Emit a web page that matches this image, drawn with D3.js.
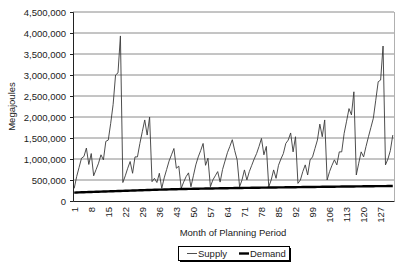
<!DOCTYPE html>
<html>
<head>
<meta charset="utf-8">
<script src="https://cdn.jsdelivr.net/npm/d3@7"></script>
<style>
  html, body { margin: 0; padding: 0; background: #fff; }
  svg { display: block; font-family: "Liberation Sans", Arial, sans-serif; }
</style>
</head>
<body>
<svg id="chart" width="398" height="275"></svg>
<script>
// ---- data ----
const months = d3.range(1, 133);
const supply = [
  300000, 580000, 800000, 1020000, 1060000, 1260000, 870000, 1130000, 600000, 750000, 900000, 1100000,
  980000, 1420000, 1450000, 1850000, 2300000, 3000000, 3050000, 3930000, 440000, 600000, 780000, 940000,
  660000, 1050000, 1050000, 1370000, 1650000, 1930000, 1570000, 2000000, 460000, 540000, 440000, 660000,
  300000, 550000, 750000, 950000, 1100000, 1250000, 780000, 830000, 300000, 450000, 580000, 670000,
  340000, 600000, 860000, 1050000, 1200000, 1370000, 850000, 1020000, 340000, 500000, 600000, 700000,
  450000, 750000, 950000, 1150000, 1300000, 1460000, 1200000, 980000, 340000, 500000, 740000, 500000,
  700000, 850000, 1000000, 1130000, 1300000, 1490000, 1100000, 1300000, 340000, 500000, 740000, 540000,
  850000, 1000000, 1130000, 1370000, 1450000, 1620000, 1170000, 1530000, 420000, 500000, 700000, 860000,
  620000, 980000, 1050000, 1250000, 1450000, 1830000, 1530000, 1930000, 500000, 700000, 850000, 980000,
  860000, 1170000, 1170000, 1610000, 1900000, 2200000, 2050000, 2600000, 620000, 900000, 1170000, 1050000,
  1300000, 1530000, 1750000, 1970000, 2400000, 2840000, 2880000, 3690000, 860000, 1000000, 1200000, 1570000
];
const demand = [
  200000, 202000, 205000, 207000, 209000, 211000, 213000, 215000, 217000, 219000, 221000, 223000,
  225000, 227000, 229000, 231000, 233000, 235000, 237000, 239000, 241000, 243000, 245000, 247000,
  249000, 251000, 253000, 255000, 257000, 259000, 261000, 263000, 265000, 267000, 269000, 271000,
  272000, 274000, 275000, 277000, 278000, 280000, 281000, 283000, 284000, 285000, 287000, 288000,
  289000, 290000, 292000, 293000, 294000, 295000, 296000, 297000, 298000, 299000, 300000, 301000,
  302000, 303000, 304000, 305000, 306000, 307000, 308000, 309000, 310000, 311000, 312000, 313000,
  313000, 314000, 315000, 316000, 317000, 318000, 319000, 319000, 320000, 321000, 322000, 323000,
  324000, 324000, 325000, 326000, 327000, 328000, 328000, 329000, 330000, 331000, 332000, 332000,
  333000, 334000, 335000, 335000, 336000, 337000, 338000, 338000, 339000, 340000, 341000, 341000,
  342000, 343000, 344000, 344000, 345000, 346000, 346000, 347000, 348000, 348000, 349000, 350000,
  350000, 351000, 352000, 352000, 353000, 354000, 354000, 355000, 355000, 356000, 356000, 357000
];
const yTicks = [0, 500000, 1000000, 1500000, 2000000, 2500000, 3000000, 3500000, 4000000, 4500000];
const xTickLabels = [1, 8, 15, 22, 29, 36, 43, 50, 57, 64, 71, 78, 85, 92, 99, 106, 113, 120, 127];
const seriesNames = ["Supply", "Demand"];

// ---- layout ----
const L = 73, R = 394, T = 12, B = 201;
const svg = d3.select("#chart");
const fmt = d3.format(",");

const x = d3.scaleBand().domain(months).range([L, R]).paddingInner(0).paddingOuter(0);
const y = d3.scaleLinear().domain([0, 4500000]).range([B, T]);
const cx = m => x(m) + x.bandwidth() / 2;

// gridlines
svg.append("g").selectAll("line").data(yTicks.filter(d => d > 0)).join("line")
  .attr("x1", L).attr("x2", R)
  .attr("y1", d => y(d)).attr("y2", d => y(d))
  .attr("stroke", "#8a8a8a").attr("stroke-width", 1);

// right border
svg.append("line").attr("x1", R + 0.5).attr("x2", R + 0.5).attr("y1", T).attr("y2", B)
  .attr("stroke", "#b0b0b0").attr("stroke-width", 1);

// y axis
const yAxis = svg.append("g").attr("transform", `translate(${L},0)`)
  .call(d3.axisLeft(y).tickValues(yTicks).tickFormat(fmt).tickSize(3).tickPadding(4));
yAxis.select(".domain").attr("stroke", "#222");
yAxis.selectAll(".tick line").attr("stroke", "#222");
yAxis.selectAll("text").attr("font-size", "9.5px").attr("fill", "#222")
  .attr("font-family", "'Liberation Sans', Arial, sans-serif");

// x axis
const xAxis = svg.append("g").attr("transform", `translate(0,${B})`)
  .call(d3.axisBottom(x).tickValues(xTickLabels).tickSize(0).tickPadding(0));
xAxis.select(".domain").attr("stroke", "#222");
xAxis.selectAll("text")
  .attr("font-size", "9.5px").attr("fill", "#222")
  .attr("font-family", "'Liberation Sans', Arial, sans-serif")
  .attr("text-anchor", "end")
  .attr("dy", "0.35em")
  .attr("transform", "translate(0,6) rotate(-90)")
  .attr("x", 0).attr("y", 0);

// lines
const line = d3.line().x((d, i) => cx(months[i])).y(d => y(d));
svg.append("path").datum(supply).attr("d", line)
  .attr("fill", "none").attr("stroke", "#3a3a3a").attr("stroke-width", 0.9)
  .attr("stroke-linejoin", "round");
svg.append("path").datum(demand).attr("d", line)
  .attr("fill", "none").attr("stroke", "#000").attr("stroke-width", 2.4);

// axis titles
svg.append("text").attr("transform", `translate(12,${(T + B) / 2}) rotate(-90)`)
  .attr("text-anchor", "middle").attr("dy", "0.35em")
  .attr("font-size", "9.5px").attr("fill", "#222").text("Megajoules");
svg.append("text").attr("x", 233).attr("y", 233).attr("dy", "0.35em")
  .attr("text-anchor", "middle").attr("font-size", "9.5px").attr("fill", "#222")
  .text("Month of Planning Period");

// legend
const lg = svg.append("g");
lg.append("rect").attr("x", 180).attr("y", 248).attr("width", 111).attr("height", 14).attr("fill", "#000");
lg.append("rect").attr("x", 178.5).attr("y", 246.5).attr("width", 111).attr("height", 14)
  .attr("fill", "#fff").attr("stroke", "#000").attr("stroke-width", 1);
const items = [
  { name: seriesNames[0], lx: 187, tx: 198, w: 0.9, c: "#3a3a3a" },
  { name: seriesNames[1], lx: 239, tx: 250, w: 2.4, c: "#000" }
];
items.forEach(it => {
  lg.append("line").attr("x1", it.lx).attr("x2", it.lx + 10).attr("y1", 253.5).attr("y2", 253.5)
    .attr("stroke", it.c).attr("stroke-width", it.w);
  lg.append("text").attr("x", it.tx).attr("y", 253.5).attr("dy", "0.35em")
    .attr("font-size", "9.5px").attr("fill", "#222").text(it.name);
});
</script>
</body>
</html>
